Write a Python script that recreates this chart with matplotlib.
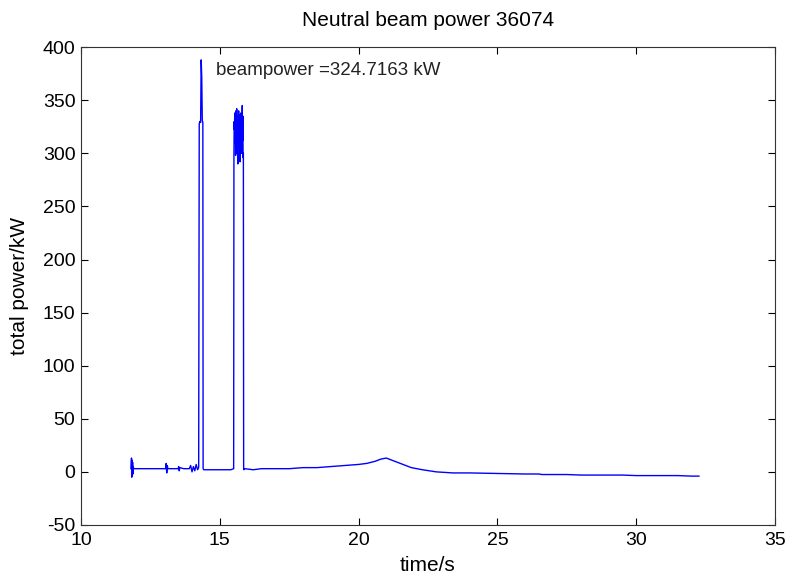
import matplotlib
matplotlib.use('Agg')
import matplotlib.pyplot as plt

# time (s) and total beam power (kW)
time_s = [11.80, 11.82, 11.83, 11.84, 11.85, 11.86, 11.87, 11.88, 11.90, 12.40,
          13.00, 13.05, 13.07, 13.09, 13.11, 13.13, 13.20, 13.50, 13.52, 13.54,
          13.56, 13.70, 13.90, 13.95, 14.00, 14.05, 14.10, 14.15, 14.20, 14.24,
          14.26, 14.28, 14.31, 14.33, 14.35, 14.37, 14.39, 14.40, 14.42, 14.80,
          15.20, 15.40, 15.50, 15.51, 15.52, 15.53, 15.54, 15.55, 15.56, 15.57,
          15.58, 15.59, 15.60, 15.61, 15.62, 15.63, 15.64, 15.65, 15.66, 15.67,
          15.68, 15.69, 15.70, 15.71, 15.72, 15.73, 15.74, 15.75, 15.76, 15.77,
          15.78, 15.79, 15.80, 15.81, 15.82, 15.83, 15.84, 15.85, 15.86, 15.87,
          15.90, 16.20, 16.50, 17.00, 17.50, 18.00, 18.50, 19.00, 19.50, 20.00,
          20.30, 20.60, 20.80, 21.00, 21.10, 21.30, 21.60, 21.90, 22.30, 22.80,
          23.40, 24.00, 25.00, 26.00, 26.50, 26.60, 27.00, 27.50, 28.00, 28.50,
          29.00, 29.50, 30.00, 30.50, 31.00, 31.50, 32.00, 32.26]
power_kw = [3, 13, -5, 11, -4, 9, -2, 5, 3, 3,
            3, 3, 8, -1, 6, 3, 3, 3, 5, 1,
            4, 3, 3, 6, 0, 5, 1, 7, 2, 4,
            328, 330, 329, 388, 372, 331, 329, 3, 2, 2,
            2, 2, 3, 300, 330, 322, 338, 310, 335, 298,
            340, 325, 318, 342, 300, 335, 312, 290, 330, 320,
            340, 305, 328, 316, 336, 292, 326, 318, 338, 310,
            334, 300, 325, 345, 312, 335, 296, 300, 3, 2,
            3, 2, 3, 3, 3, 4, 4, 5, 6, 7,
            8, 10, 12, 13, 12, 10, 7, 4, 2, 0,
            -1, -1, -1.5, -2, -2, -2.5, -2.5, -2.5, -3, -3,
            -3, -3, -3.5, -3.5, -3.5, -3.5, -4, -4]

title = 'Neutral beam power 36074'
note = 'beampower =324.7163 kW'
x_ticks = [10, 15, 20, 25, 30, 35]
y_ticks = [-50, 0, 50, 100, 150, 200, 250, 300, 350, 400]

plt.rcParams['font.family'] = ['Liberation Sans', 'DejaVu Sans']
plt.rcParams['axes.unicode_minus'] = False

fig = plt.figure(figsize=(7.9, 5.82), dpi=100)
ax = fig.add_axes([0.1025, 0.098, 0.8785, 0.821])

ax.plot(time_s, power_kw, color='#0000ff', linewidth=1.0)
ax.text(14.85, 378, note, fontsize=13.5, va='center', ha='left', color='#222222')

ax.set_xlim(10, 35)
ax.set_ylim(-50, 400)
ax.set_xticks(x_ticks)
ax.set_yticks(y_ticks)
ax.tick_params(direction='in', top=True, right=True, length=5, labelsize=14)
ax.tick_params(axis='x', pad=5)
ax.tick_params(axis='y', pad=4)
for s in ax.spines.values():
    s.set_linewidth(0.8)
    s.set_color('#333333')

ax.set_title(title, fontsize=15, pad=15)
ax.set_xlabel('time/s', fontsize=15, labelpad=5)
ax.set_ylabel('total power/kW', fontsize=15, labelpad=10)

fig.savefig('out.png', dpi=100)
